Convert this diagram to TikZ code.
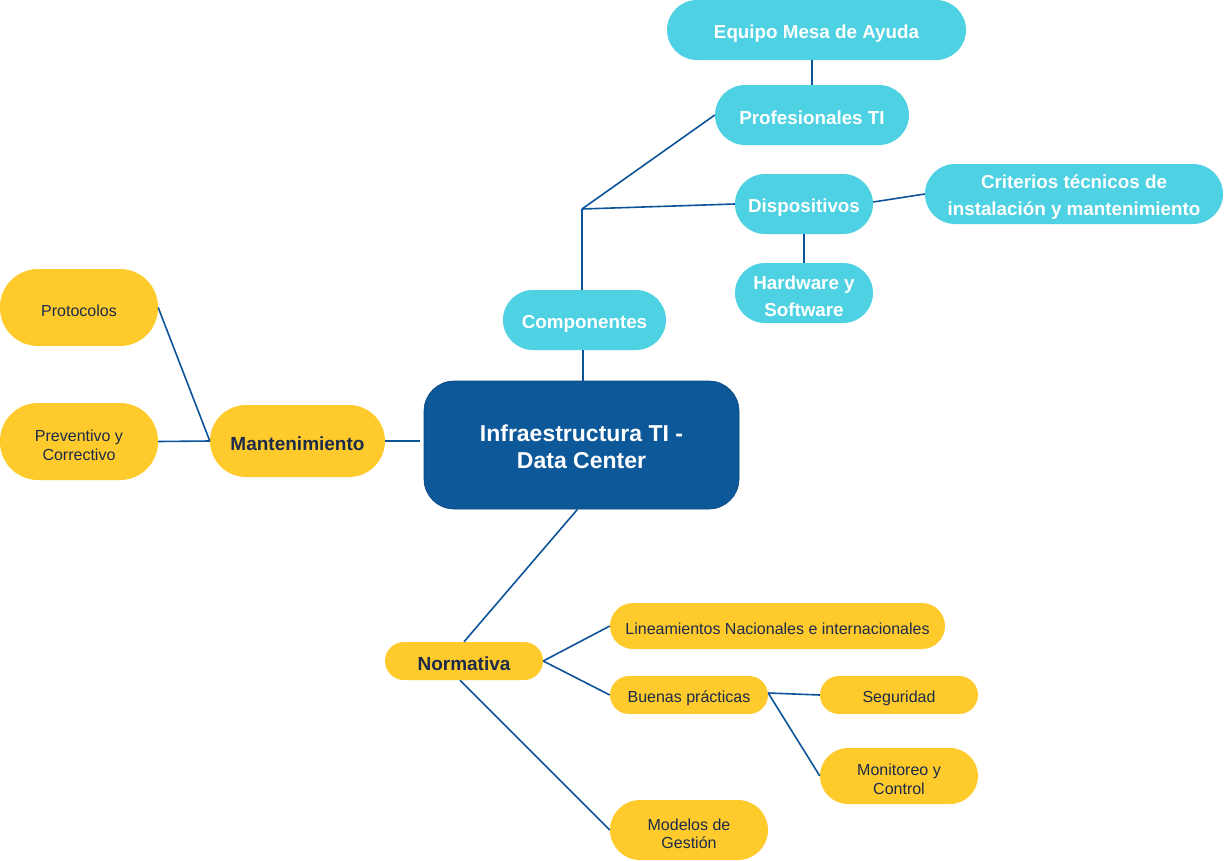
\documentclass[tikz,border=0pt]{standalone}
\usepackage{fontspec}
\setmainfont{Liberation Sans}
\usetikzlibrary{calc}

\definecolor{coreblue}{HTML}{0C5899}
\definecolor{linkblue}{HTML}{0D5399}
\definecolor{aqua}{HTML}{4ED1E2}
\definecolor{sun}{HTML}{FFCA2C}
\definecolor{navytext}{HTML}{1C2B4A}

\tikzset{
  link/.style={draw=linkblue, line width=1.6pt},
  % a tall invisible strut beside the text sets it a bit low in its box
  lowtext/.style={execute at begin node={\rule{0pt}{#1}}},
  corebox/.style={fill=coreblue, draw=coreblue!80!black, line width=0.6pt,
    rounded corners=30, text=white, align=center, inner sep=0pt,
    font=\bfseries\fontsize{23}{27}\selectfont},
  aquabox/.style={lowtext=20pt, fill=aqua, rounded corners=30, text=white, align=center,
    inner sep=0pt, font=\bfseries\fontsize{18.8}{27}\selectfont},
  sunbold/.style={lowtext=18.5pt, fill=sun, text=navytext, align=center, inner sep=0pt,
    font=\bfseries\fontsize{19}{24}\selectfont},
  sunbox/.style={lowtext=17.5pt, fill=sun, text=navytext, align=center, inner sep=0pt,
    font=\fontsize{16}{18.5}\selectfont},
}

\begin{document}
\begin{tikzpicture}[x=1pt, y=-1pt]
  \useasboundingbox (0,0) rectangle (1224,860);

  % central topic
  \node[corebox, lowtext=48pt, minimum width=315, minimum height=128] (core) at (581.5,445)
    {Infraestructura TI -\\Data Center};

  % components branch
  \node[aquabox, minimum width=163, minimum height=60] (comp) at (584.5,320) {Componentes};
  \node[aquabox, minimum width=299, minimum height=60] (mesa) at (816.5,30) {Equipo Mesa de Ayuda};
  \node[aquabox, minimum width=194, minimum height=60] (prof) at (812,115) {Profesionales TI};
  \node[aquabox, minimum width=138, minimum height=60] (disp) at (804,204) {Dispositivos};
  \node[aquabox, lowtext=47pt, minimum width=298, minimum height=60] (crit) at (1074,194)
    {Criterios técnicos de\\instalación y mantenimiento};
  \node[aquabox, lowtext=47pt, minimum width=138, minimum height=60] (hwsw) at (804,293) {Hardware y\\Software};
  \coordinate (hub) at (582,209);

  % maintenance branch
  \node[sunbold, rounded corners=36, minimum width=175, minimum height=72] (mant) at (297.5,441) {Mantenimiento};
  \node[sunbox, rounded corners=38, minimum width=158, minimum height=77] (prot) at (79,307.5) {Protocolos};
  \node[sunbox, lowtext=38pt, rounded corners=38, minimum width=158, minimum height=77] (prev) at (79,441.5) {Preventivo y\\Correctivo};

  % regulation branch
  \node[sunbold, rounded corners=19, minimum width=158, minimum height=38] (norm) at (464,661) {Normativa};
  \node[sunbox, rounded corners=23, minimum width=335, minimum height=46] (line) at (777.5,626) {Lineamientos Nacionales e internacionales};
  \node[sunbox, rounded corners=19, minimum width=158, minimum height=38] (buen) at (689,695) {Buenas prácticas};
  \node[sunbox, rounded corners=19, minimum width=158, minimum height=38] (segu) at (899,695) {Seguridad};
  \node[sunbox, lowtext=37pt, rounded corners=28, minimum width=158, minimum height=56] (moni) at (899,776) {Monitoreo y\\Control};
  \node[sunbox, lowtext=38pt, rounded corners=30, minimum width=158, minimum height=60] (mode) at (689,830) {Modelos de\\Gestión};

  % connectors
  \draw[link] ($(comp.south)+(-1.5,0)$) -- ($(comp.south |- core.north)+(-1.5,0)$);
  \draw[link] (comp.north -| hub) -- (hub);
  \draw[link] (hub) -- (prof.west);
  \draw[link] (hub) -- (disp.west);
  \draw[link] (mesa.south -| prof.north) -- (prof.north);
  \draw[link] ($(disp.east)+(0,-2)$) -- (crit.west);
  \draw[link] (disp.south) -- (hwsw.north);

  \draw[link] (mant.east) -- ($(mant.east -| core.west)+(-4,0)$);
  \draw[link] (mant.west) -- (prot.east);
  \draw[link] (mant.west) -- (prev.east);

  \draw[link] ($(core.south)+(-4,0)$) -- (norm.north);
  \draw[link] (norm.east) -- (line.west);
  \draw[link] (norm.east) -- (buen.west);
  \draw[link] ($(norm.south)+(-4,0)$) -- (mode.west);
  \draw[link] ($(buen.east)+(0,-2)$) -- (segu.west);
  \draw[link] ($(buen.east)+(0,-2)$) -- (moni.west);
\end{tikzpicture}
\end{document}
